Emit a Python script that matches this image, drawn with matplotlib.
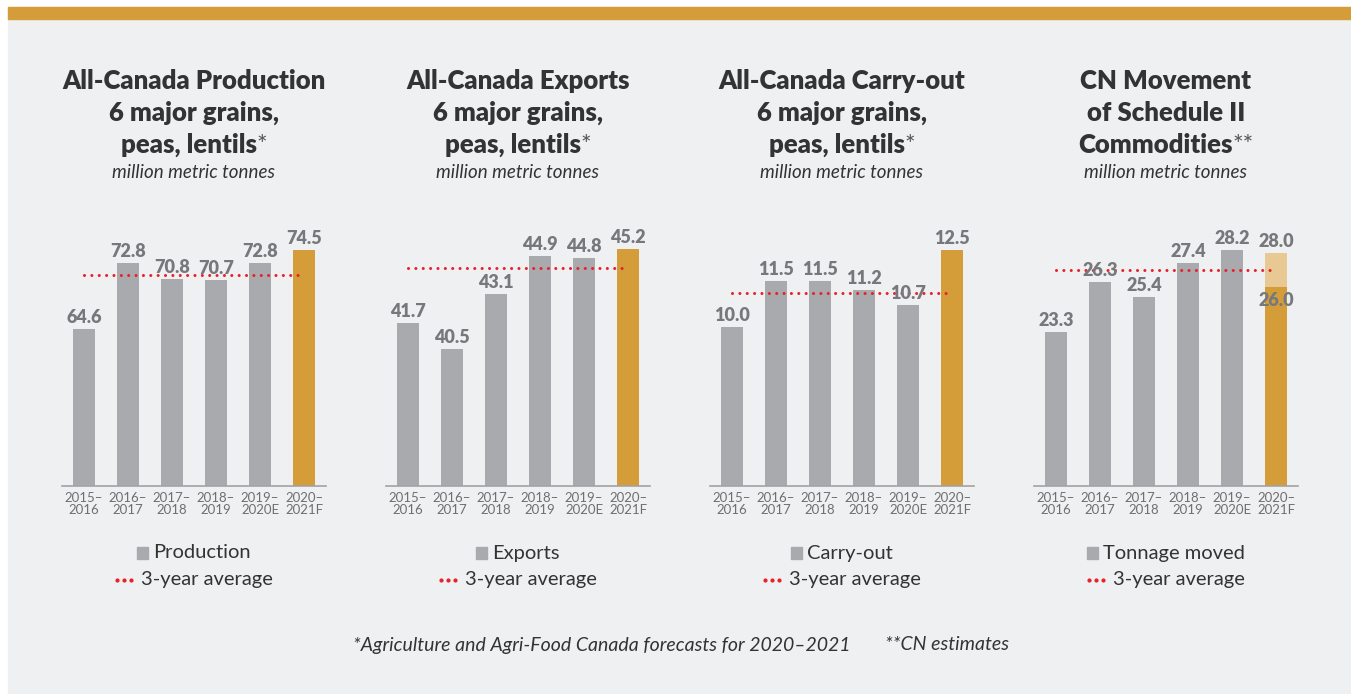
import numpy as np
import matplotlib
matplotlib.use('Agg')
import matplotlib.pyplot as plt
from matplotlib.patches import Rectangle
from matplotlib.lines import Line2D
from matplotlib.offsetbox import TextArea, DrawingArea, HPacker, AnnotationBbox

plt.rcParams['font.family'] = ['Lato', 'DejaVu Sans']

# data
years = ['2015–\n2016', '2016–\n2017', '2017–\n2018', '2018–\n2019', '2019–\n2020E', '2020–\n2021F']
production = [64.6, 72.8, 70.8, 70.7, 72.8, 74.5]
exports = [41.7, 40.5, 43.1, 44.9, 44.8, 45.2]
carryout = [10.0, 11.5, 11.5, 11.2, 10.7, 12.5]
tonnage = [23.3, 26.3, 25.4, 27.4, 28.2, 26.0]
tonnage_high = 28.0          # upper end of the 2020-2021F CN estimate
averages = [71.4, 44.3, 11.1, 27.0]

titles = [
    ['All-Canada Production', '6 major grains,', 'peas, lentils', '*'],
    ['All-Canada Exports', '6 major grains,', 'peas, lentils', '*'],
    ['All-Canada Carry-out', '6 major grains,', 'peas, lentils', '*'],
    ['CN Movement', 'of Schedule II', 'Commodities', '**'],
]
legend_names = ['Production', 'Exports', 'Carry-out', 'Tonnage moved']
series = [production, exports, carryout, tonnage]

# colours
BG = '#eff0f2'
GOLD = '#d49d39'
LIGHT_GOLD = '#e9c993'
GRAY = '#a9aaad'
RED = '#e8202a'
LABEL = '#77787b'
DARK = '#333333'

W, H = 1351, 694
fig = plt.figure(figsize=(W / 100, H / 100), dpi=100, facecolor='white')
fig.patches.append(Rectangle((8 / W, 0), 1 - 8 / W, 1 - 7 / H, transform=fig.transFigure,
                             color=BG, zorder=-10))
fig.patches.append(Rectangle((8 / W, 1 - 19 / H), 1 - 8 / W, 12 / H, transform=fig.transFigure,
                             color=GOLD, zorder=-9))


def centered_box(children, x, y, sep=5, align='center'):
    box = HPacker(children=children, align=align, pad=0, sep=sep)
    ab = AnnotationBbox(box, (x, H - y), xycoords='figure pixels', frameon=False,
                        box_alignment=(0.5, 0.5), pad=0)
    fig.add_artist(ab)


lefts = [62, 386, 710, 1034]
ylims = [(44.9, 77.5), (34.0, 46.3), (4.84, 13.28), (14.1, 29.64)]
x = np.arange(len(years))
val_style = dict(fontsize=13, fontweight='heavy', color=LABEL, zorder=4)

for k in range(4):
    left = lefts[k]
    vals = series[k]
    ax = fig.add_axes([left / W, (H - 486) / H, 264 / W, 260 / H])
    ax.set_facecolor('none')
    colors = [GRAY] * 5 + [GOLD]
    ax.bar(x, vals, width=0.5, color=colors, zorder=2)
    if k == 3:
        ax.bar(x[-1], tonnage_high - vals[-1], bottom=vals[-1], width=0.5,
               color=LIGHT_GOLD, zorder=2)
    ax.set_xlim(-0.5, 5.5)
    ax.set_ylim(*ylims[k])
    ax.plot([x[0], x[-1]], [averages[k]] * 2, color=RED, lw=2.2, ls=(0, (0.01, 2.4)),
            dash_capstyle='round', zorder=3)

    for i, v in enumerate(vals):
        if k == 3 and i == len(vals) - 1:
            ax.annotate(f'{tonnage_high:.1f}', (x[i], tonnage_high), xytext=(0, 3),
                        textcoords='offset pixels', ha='center', va='bottom', **val_style)
            ax.annotate(f'{v:.1f}', (x[i], v), xytext=(0, -5),
                        textcoords='offset pixels', ha='center', va='top', **val_style)
        else:
            ax.annotate(f'{v:.1f}', (x[i], v), xytext=(0, 3),
                        textcoords='offset pixels', ha='center', va='bottom', **val_style)

    ax.set_xticks(x, years)
    ax.set_yticks([])
    ax.tick_params(axis='x', length=0, pad=4, labelsize=9.5, labelcolor='#6f6f72')
    for lab in ax.get_xticklabels():
        lab.set_linespacing(1.0)
    for s in ['top', 'left', 'right']:
        ax.spines[s].set_visible(False)
    ax.spines['bottom'].set_color('#a3a3a6')
    ax.spines['bottom'].set_linewidth(1.2)

    cx = left + 132
    t = titles[k]
    title_style = dict(fontsize=18.5, fontweight='heavy', color=DARK)
    fig.text(cx / W, 1 - 81 / H, t[0], ha='center', va='center', **title_style)
    fig.text(cx / W, 1 - 113 / H, t[1], ha='center', va='center', **title_style)
    centered_box([TextArea(t[2], textprops=title_style),
                  TextArea(t[3], textprops=dict(fontsize=18, color='#555555'))],
                 cx, 145, sep=0, align='baseline')
    fig.text(cx / W, 1 - 173 / H, 'million metric tonnes', ha='center', va='center',
             fontsize=13.5, style='italic', color=DARK)

    # legend rows, each centred under its panel
    sq = DrawingArea(8, 8)
    sq.add_artist(Rectangle((0, 0), 8, 8, color=GRAY))
    centered_box([sq, TextArea(legend_names[k], textprops=dict(fontsize=14.5, color=DARK))],
                 cx, 553, sep=4)
    dots = DrawingArea(12, 6)
    dots.add_artist(Line2D([1.2, 6.2, 11.2], [3, 3, 3], ls='none', marker='o',
                           markersize=2.0, color=RED))
    centered_box([dots, TextArea('3-year average', textprops=dict(fontsize=14.5, color=DARK))],
                 cx, 580, sep=6)

centered_box([TextArea('*Agriculture and Agri-Food Canada forecasts for 2020–2021',
                       textprops=dict(fontsize=14, style='italic', color=DARK)),
              TextArea('**CN estimates', textprops=dict(fontsize=14, style='italic', color=DARK))],
             681, 645, sep=25)

fig.savefig('out.png', dpi=100, facecolor=fig.get_facecolor())
